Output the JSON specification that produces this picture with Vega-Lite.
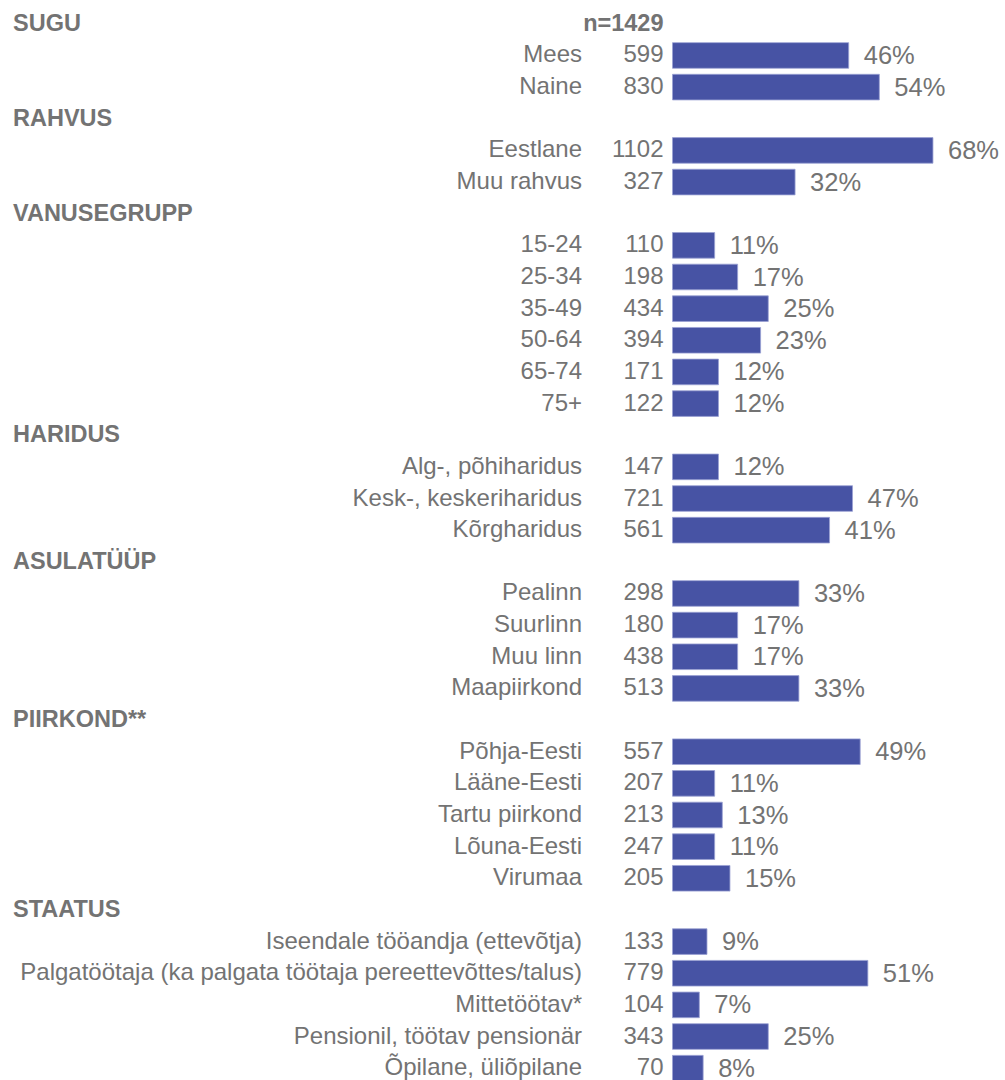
{
  "$schema": "https://vega.github.io/schema/vega-lite/v6.json",
  "width": 1005,
  "height": 1076,
  "autosize": {"type": "none"},
  "padding": {"left": 0, "top": 8, "right": 0, "bottom": 0},
  "background": "white",
  "config": {"view": {"stroke": null}, "text": {"font": "Liberation Sans", "color": "#737373"}},
  "data": {"values": [
    {"row": 0, "label": "SUGU", "type": "header", "note": "n=1429"},
    {"row": 1, "label": "Mees", "type": "item", "n": 599, "pct": 0.46},
    {"row": 2, "label": "Naine", "type": "item", "n": 830, "pct": 0.54},
    {"row": 3, "label": "RAHVUS", "type": "header"},
    {"row": 4, "label": "Eestlane", "type": "item", "n": 1102, "pct": 0.68},
    {"row": 5, "label": "Muu rahvus", "type": "item", "n": 327, "pct": 0.32},
    {"row": 6, "label": "VANUSEGRUPP", "type": "header"},
    {"row": 7, "label": "15-24", "type": "item", "n": 110, "pct": 0.11},
    {"row": 8, "label": "25-34", "type": "item", "n": 198, "pct": 0.17},
    {"row": 9, "label": "35-49", "type": "item", "n": 434, "pct": 0.25},
    {"row": 10, "label": "50-64", "type": "item", "n": 394, "pct": 0.23},
    {"row": 11, "label": "65-74", "type": "item", "n": 171, "pct": 0.12},
    {"row": 12, "label": "75+", "type": "item", "n": 122, "pct": 0.12},
    {"row": 13, "label": "HARIDUS", "type": "header"},
    {"row": 14, "label": "Alg-, põhiharidus", "type": "item", "n": 147, "pct": 0.12},
    {"row": 15, "label": "Kesk-, keskeriharidus", "type": "item", "n": 721, "pct": 0.47},
    {"row": 16, "label": "Kõrgharidus", "type": "item", "n": 561, "pct": 0.41},
    {"row": 17, "label": "ASULATÜÜP", "type": "header"},
    {"row": 18, "label": "Pealinn", "type": "item", "n": 298, "pct": 0.33},
    {"row": 19, "label": "Suurlinn", "type": "item", "n": 180, "pct": 0.17},
    {"row": 20, "label": "Muu linn", "type": "item", "n": 438, "pct": 0.17},
    {"row": 21, "label": "Maapiirkond", "type": "item", "n": 513, "pct": 0.33},
    {"row": 22, "label": "PIIRKOND**", "type": "header"},
    {"row": 23, "label": "Põhja-Eesti", "type": "item", "n": 557, "pct": 0.49},
    {"row": 24, "label": "Lääne-Eesti", "type": "item", "n": 207, "pct": 0.11},
    {"row": 25, "label": "Tartu piirkond", "type": "item", "n": 213, "pct": 0.13},
    {"row": 26, "label": "Lõuna-Eesti", "type": "item", "n": 247, "pct": 0.11},
    {"row": 27, "label": "Virumaa", "type": "item", "n": 205, "pct": 0.15},
    {"row": 28, "label": "STAATUS", "type": "header"},
    {"row": 29, "label": "Iseendale tööandja (ettevõtja)", "type": "item", "n": 133, "pct": 0.09},
    {"row": 30, "label": "Palgatöötaja (ka palgata töötaja pereettevõttes/talus)", "type": "item", "n": 779, "pct": 0.51},
    {"row": 31, "label": "Mittetöötav*", "type": "item", "n": 104, "pct": 0.07},
    {"row": 32, "label": "Pensionil, töötav pensionär", "type": "item", "n": 343, "pct": 0.25},
    {"row": 33, "label": "Õpilane, üliõpilane", "type": "item", "n": 70, "pct": 0.08}
  ]},
  "encoding": {
    "y": {"field": "row", "type": "ordinal", "axis": null, "scale": {"paddingInner": 0.19, "paddingOuter": 0.095}}
  },
  "layer": [
    {
      "transform": [{"filter": "datum.type === 'item'"}],
      "mark": {"type": "bar", "color": "#4753A4", "stroke": "#9aa1d3", "strokeWidth": 0.8},
      "encoding": {
        "x": {"field": "pct", "type": "quantitative", "scale": {"domain": [-1.7559, 0.8681], "nice": false, "zero": false}, "axis": null},
        "x2": {"datum": 0}
      }
    },
    {
      "transform": [{"filter": "datum.type === 'item'"}],
      "mark": {"type": "text", "align": "left", "dx": 15, "dy": 0.5, "fontSize": 25.5},
      "encoding": {
        "x": {"field": "pct", "type": "quantitative"},
        "text": {"field": "pct", "type": "quantitative", "format": ".0%"}
      }
    },
    {
      "transform": [{"filter": "datum.type === 'item'"}],
      "mark": {"type": "text", "align": "right", "fontSize": 24},
      "encoding": {
        "x": {"datum": -0.2363, "type": "quantitative"},
        "text": {"field": "label", "type": "nominal"}
      }
    },
    {
      "transform": [{"filter": "datum.type === 'item'"}],
      "mark": {"type": "text", "align": "right", "fontSize": 24},
      "encoding": {
        "x": {"datum": -0.0235, "type": "quantitative"},
        "text": {"field": "n", "type": "quantitative", "format": "d"}
      }
    },
    {
      "transform": [{"filter": "datum.type === 'header'"}],
      "mark": {"type": "text", "align": "left", "fontSize": 23.5, "fontWeight": "bold"},
      "encoding": {
        "x": {"datum": -1.722, "type": "quantitative"},
        "text": {"field": "label", "type": "nominal"}
      }
    },
    {
      "transform": [{"filter": "datum.note != null"}],
      "mark": {"type": "text", "align": "right", "fontSize": 23.5, "fontWeight": "bold"},
      "encoding": {
        "x": {"datum": -0.0235, "type": "quantitative"},
        "text": {"field": "note", "type": "nominal"}
      }
    }
  ]
}
